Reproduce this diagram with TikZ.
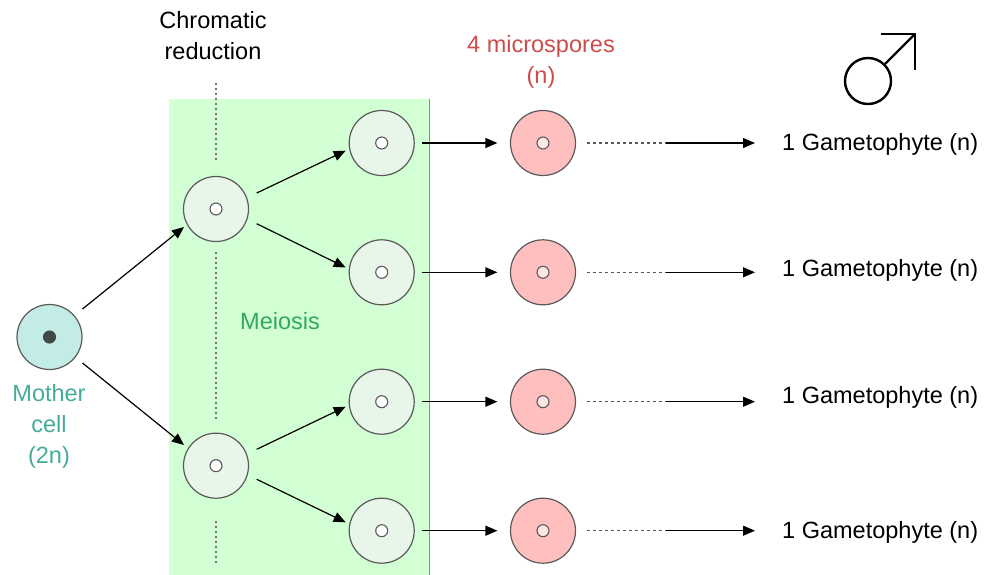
\documentclass[tikz,border=0pt]{standalone}
\usepackage{fontspec}
\setmainfont{Liberation Sans}
\usetikzlibrary{arrows.meta}
\usetikzlibrary{positioning}
\definecolor{meiosisbg}{HTML}{D2FFD4}
\definecolor{cellgreen}{HTML}{E8F5E9}
\definecolor{cellpink}{HTML}{FFBFBF}
\definecolor{cellpinkin}{HTML}{FFE6E6}
\definecolor{celltea}{HTML}{C3ECE6}
\definecolor{cellline}{HTML}{5A5A5A}
\definecolor{mothernuc}{HTML}{3F4A48}
\definecolor{mothertext}{HTML}{45AB9A}
\definecolor{meiosistext}{HTML}{33A860}
\definecolor{sporetext}{HTML}{CC4C4C}
\tikzset{cell/.style = {draw = cellline, circle, line width = 1.2, inner sep = 0, minimum size = 65}}
\tikzset{nucleus/.style = {draw = cellline, circle, fill = white, line width = 1.1, inner sep = 0, minimum size = 12}}
\tikzset{lbl/.style = {inner sep = 0, align = center, font = \fontsize{23.5}{31}\selectfont}}
\tikzset{arr/.style = {-{Triangle[length = 12, width = 10]}, line width = 1.2, black}}
\tikzset{cut/.style = {dash pattern = on 2 off 3, line width = 1.3, black!55}}

\begin{document}
\begin{tikzpicture}[x=1pt, y=-1pt]
    \useasboundingbox (0, 0) rectangle (987, 575);
    \fill [meiosisbg] (169, 99) rectangle (429, 575);
    \draw [line width = 0.8, black!45] (429, 99) -- (429, 575);
    \draw [cut] (216, 83) -- (216, 160);
    \draw [cut] (216, 252) -- (216, 420);
    \draw [cut] (216, 521) -- (216, 565);

    \node [cell, fill = celltea] (mother) at (49.5, 337) {};
    \node [nucleus, fill = mothernuc, draw = mothernuc] (mothernucleus) at (mother) {};
    \foreach \n/\y/\sy/\ey in {1/209/-28/18, 2/465.7/26/-20.7} {
      \node [cell, fill = cellgreen] (meio\n) at (216, \y) {};
      \node [nucleus] (meionuc\n) at (meio\n) {};
      \draw [arr] ([shift={(33, \sy)}]mother.center) -- ([shift={(-32, \ey)}]meio\n.center);
    }
    \foreach \n/\y/\ty/\from/\sy/\ey in {1/143/144.5/1/-16/7.7, 2/272.3/270.5/1/14.7/-4.8, 3/401.7/397.5/2/-16.4/5, 4/530.7/532.5/2/13.6/-8.4} {
      \node [cell, fill = cellgreen] (tetrad\n) at (381.7, \y) {};
      \node [nucleus] (tetradnuc\n) at (tetrad\n) {};
      \node [cell, fill = cellpink] (spore\n) at (543, \y) {};
      \node [nucleus, fill = cellpinkin] (sporenuc\n) at (spore\n) {};
      \node [lbl, anchor = west] (gamete\n) at (782, \ty) {1 Gametophyte (n)};
      \coordinate (mid\n) at (666, \y);
      \draw [arr] ([shift={(40.7, \sy)}]meio\from.center) -- ([shift={(-36, \ey)}]tetrad\n.center);
      \draw [arr, shorten <= 7, shorten >= 12.5] (tetrad\n) -- (spore\n);
      \draw [line width = 1.3, black!65, dash pattern = on 3 off 3, shorten <= 10.5] (spore\n) -- (mid\n);
      \draw [arr, shorten >= 27] (mid\n) -- (mid\n -| gamete\n.west);
    }

    \node [lbl] (chromatic) at (213, 35.5) {Chromatic\\reduction};
    \node [lbl, text = sporetext] (microspores) at (541, 61.5) {4 microspores\\(n)};
    \node [lbl, text = meiosistext] (meiosis) at (280, 321) {Meiosis};
    \node [lbl, text = mothertext] (mothername) at (49, 426) {Mother\\cell\\(2n)};

    \node [draw, circle, line width = 2.4, inner sep = 0, minimum size = 46] (male) at (868, 81) {};
    \coordinate (maletip) at (915, 34);
    \draw [line width = 2.4] (male.45) -- (maletip);
    \draw [line width = 2.4, line cap = butt] (881, 34) -- (maletip) -- (915, 70);
\end{tikzpicture}
\end{document}
